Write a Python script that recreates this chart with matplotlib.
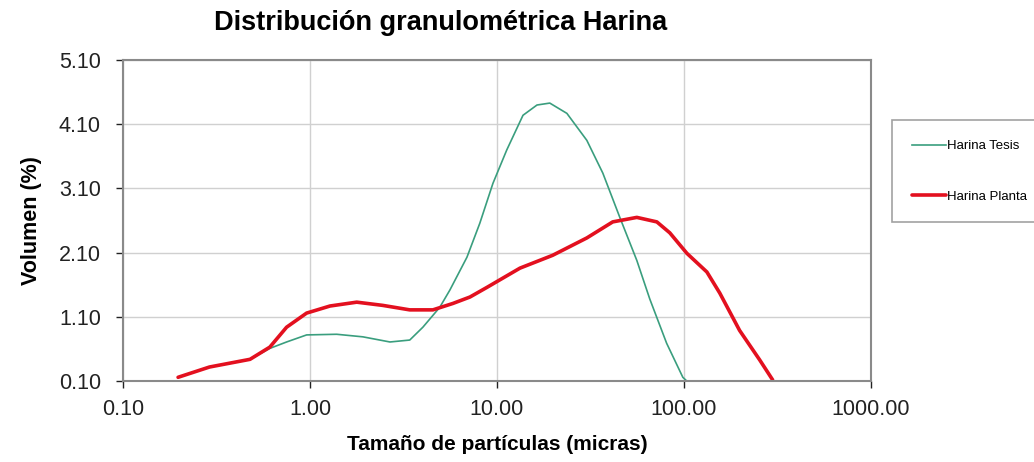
import numpy as np
import matplotlib
matplotlib.use("Agg")
import matplotlib.pyplot as plt
from matplotlib.ticker import FixedLocator, FormatStrFormatter

plt.rcParams['font.family'] = ['Liberation Sans', 'DejaVu Sans']

# data
tesis_x = [0.197, 0.29, 0.478, 0.61, 0.75, 0.96, 1.39, 1.92, 2.68, 3.42, 4.02,
           4.95, 5.61, 6.92, 8.11, 9.53, 11.3, 13.8, 16.4, 19.2, 23.7, 30.3,
           36.9, 45.5, 56.1, 65.8, 81, 98.9, 104]
tesis_y = [0.16, 0.32, 0.44, 0.61, 0.71, 0.82, 0.83, 0.79, 0.71, 0.74, 0.94,
           1.25, 1.52, 2.03, 2.56, 3.18, 3.70, 4.24, 4.40, 4.43, 4.27, 3.85,
           3.34, 2.65, 1.98, 1.38, 0.69, 0.16, 0.10]

planta_x = [0.197, 0.29, 0.478, 0.61, 0.75, 0.96, 1.28, 1.78, 2.45, 3.42, 4.55,
            5.82, 7.18, 8.85, 13.3, 19.9, 30.3, 41.7, 56.1, 71.8, 84.2, 104,
            133, 156, 199, 255, 299]
planta_y = [0.16, 0.32, 0.44, 0.63, 0.94, 1.16, 1.27, 1.33, 1.28, 1.21, 1.21,
            1.31, 1.41, 1.56, 1.86, 2.06, 2.33, 2.58, 2.65, 2.58, 2.41, 2.09,
            1.80, 1.47, 0.89, 0.43, 0.12]

y_ticks = [0.1, 1.1, 2.1, 3.1, 4.1, 5.1]
x_ticks = [0.1, 1, 10, 100, 1000]

fig = plt.figure(figsize=(10.34, 4.62), dpi=100)
ax = fig.add_axes([0.119, 0.175, 0.723, 0.695])

ax.plot(tesis_x, tesis_y, color='#3a9e7e', lw=1.2, label='Harina Tesis',
        solid_joinstyle='round')
ax.plot(planta_x, planta_y, color='#e3101f', lw=2.6, label='Harina Planta',
        solid_joinstyle='round', solid_capstyle='round')

ax.set_xscale('log')
ax.set_xlim(0.1, 1000)
ax.set_ylim(0.1, 5.1)
ax.xaxis.set_major_locator(FixedLocator(x_ticks))
ax.xaxis.set_minor_locator(FixedLocator([]))
ax.xaxis.set_major_formatter(FormatStrFormatter('%.2f'))
ax.yaxis.set_major_locator(FixedLocator(y_ticks))
ax.yaxis.set_major_formatter(FormatStrFormatter('%.2f'))
ax.tick_params(labelsize=15.5, colors='#222222', length=5, width=1, direction='out')
ax.tick_params(axis='x', pad=8)
ax.tick_params(axis='y', pad=11)
ax.grid(True, color='#d0d0d0', lw=1)
ax.set_axisbelow(True)
for s in ax.spines.values():
    s.set_color('#8a8a8a')
    s.set_linewidth(1.5)

ax.set_xlabel('Tamaño de partículas (micras)', fontsize=15, fontweight='bold', labelpad=11)
ax.set_ylabel('Volumen (%)', fontsize=15.5, fontweight='bold', labelpad=12)
fig.text(0.426, 0.95, 'Distribución granulométrica Harina', fontsize=19.5,
         fontweight='bold', ha='center', va='center')

leg = fig.legend(loc='upper left', bbox_to_anchor=(0.863, 0.74), fontsize=9.5,
                 handlelength=2.6, handletextpad=0.05, labelspacing=2.9,
                 borderpad=1.5, borderaxespad=0, fancybox=False, frameon=True)
leg.get_frame().set_edgecolor('#8a8a8a')
leg.get_frame().set_linewidth(1.2)

fig.savefig('out.png', dpi=100)
